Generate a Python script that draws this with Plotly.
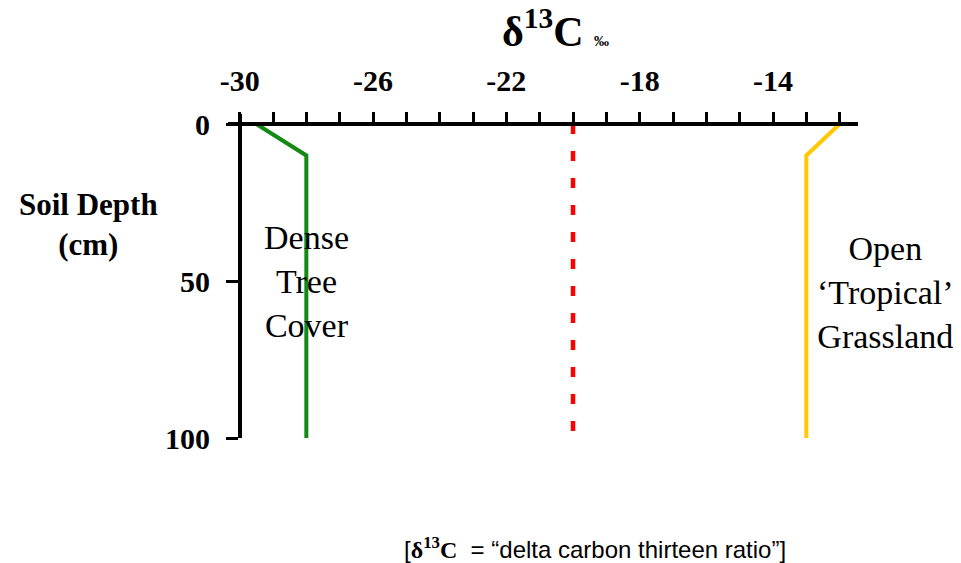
import plotly.graph_objects as go

# Data
depth = [0, 10, 100]
dense_tree_d13c = [-29.5, -28, -28]
grassland_d13c = [-12, -13, -13]
divider_d13c = [-20, -20]
divider_depth = [0, 100]
x_tickvals = [-30, -26, -22, -18, -14]
x_ticktext = ["-30", "-26", "-22", "-18", "-14"]
y_tickvals = [0, 50, 100]
y_ticktext = ["0", "50", "100"]

SERIF = "Liberation Serif, Times New Roman, serif"

fig = go.Figure()
fig.add_trace(go.Scatter(x=divider_d13c, y=divider_depth, mode="lines",
                         line=dict(color="#ff0000", width=4.5, dash="10px,17px"),
                         cliponaxis=False, showlegend=False, hoverinfo="skip"))
fig.add_trace(go.Scatter(x=dense_tree_d13c, y=depth, mode="lines",
                         line=dict(color="#138a13", width=4),
                         cliponaxis=False, showlegend=False))
fig.add_trace(go.Scatter(x=grassland_d13c, y=depth, mode="lines",
                         line=dict(color="#ffc800", width=4),
                         cliponaxis=False, showlegend=False))

fig.update_layout(
    width=953, height=555,
    margin=dict(l=220, r=103, t=106, b=125),
    paper_bgcolor="white", plot_bgcolor="white",
    xaxis=dict(range=[-30.35, -11.45], side="top", anchor="free", position=0.969,
               automargin=False,
               tickvals=x_tickvals, ticktext=x_ticktext, ticks="outside", ticklen=10,
               tickwidth=3, tickcolor="black",
               showline=True, linecolor="black", linewidth=4, showgrid=False, zeroline=False,
               tickfont=dict(family=SERIF, size=30, color="black", weight="bold"),
               ticklabelstandoff=9,
               minor=dict(dtick=1, tick0=-30, ticks="outside", ticklen=10, tickwidth=3,
                          tickcolor="black", showgrid=False)),
    yaxis=dict(range=[100, -3.2], anchor="free", position=0.019, side="left",
               automargin=False,
               tickvals=y_tickvals, ticktext=y_ticktext, ticks="outside", ticklen=12,
               tickwidth=3, tickcolor="black",
               showline=True, linecolor="black", linewidth=4, showgrid=False, zeroline=False,
               tickfont=dict(family=SERIF, size=30, color="black", weight="bold"),
               ticklabelstandoff=10),
)

fig.add_annotation(text="δ<sup>13</sup>C <span style='font-size:15px'>‰</span>",
                   xref="paper", yref="paper", x=0.52, y=1, xanchor="center", yanchor="middle",
                   yshift=86, showarrow=False,
                   font=dict(family=SERIF, size=42, color="black", weight="bold"))
fig.add_annotation(text="Soil Depth<br>(cm)", xref="paper", yref="paper",
                   x=-0.222, y=0.66, xanchor="center", yanchor="middle", showarrow=False,
                   font=dict(family=SERIF, size=31, color="black", weight="bold"))
fig.add_annotation(text="Dense<br>Tree<br>Cover", x=-28.0, y=50, xanchor="center", yanchor="middle",
                   showarrow=False, font=dict(family=SERIF, size=34, color="black"))
fig.add_annotation(text="Open<br>‘Tropical’<br>Grassland", xref="paper", yref="paper",
                   x=1.043, y=0.45, xanchor="center", yanchor="middle", showarrow=False,
                   font=dict(family=SERIF, size=34, color="black"))
fig.add_annotation(text="[<span style='font-family:Liberation Serif;font-weight:bold'>δ<sup>13</sup>C</span>  = “delta carbon thirteen ratio”]",
                   xref="paper", yref="paper", x=0.583, y=0, yshift=-110,
                   xanchor="center", yanchor="middle", showarrow=False,
                   font=dict(family="Liberation Sans, Arial, sans-serif", size=24, color="black"))

fig.write_html("out.html")
